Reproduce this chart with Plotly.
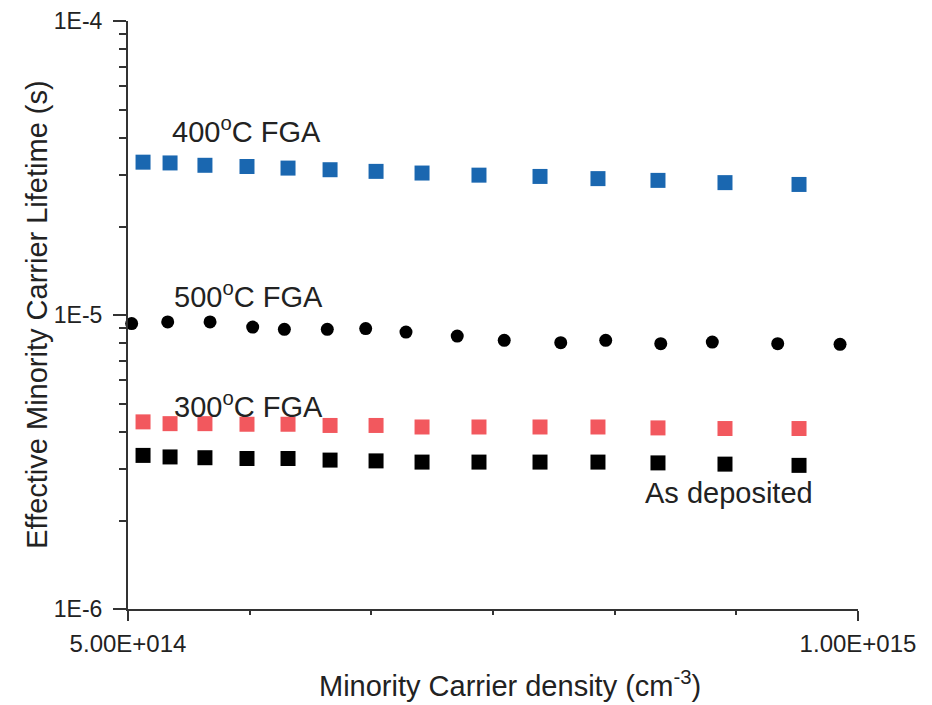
import plotly.graph_objects as go

# Minority carrier density (cm^-3) and effective lifetime (s) per anneal condition
x_sq = [5.103e14, 5.288e14, 5.527e14, 5.815e14, 6.096e14, 6.384e14, 6.699e14,
        7.014e14, 7.404e14, 7.822e14, 8.219e14, 8.630e14, 9.089e14, 9.596e14]

tau_400 = [3.31e-5, 3.29e-5, 3.23e-5, 3.20e-5, 3.16e-5, 3.12e-5, 3.08e-5,
           3.04e-5, 2.99e-5, 2.96e-5, 2.91e-5, 2.87e-5, 2.82e-5, 2.78e-5]

tau_300 = [4.33e-6, 4.27e-6, 4.27e-6, 4.25e-6, 4.25e-6, 4.21e-6, 4.21e-6,
           4.16e-6, 4.16e-6, 4.16e-6, 4.16e-6, 4.13e-6, 4.11e-6, 4.11e-6]

tau_asdep = [3.33e-6, 3.29e-6, 3.27e-6, 3.25e-6, 3.25e-6, 3.21e-6, 3.19e-6,
             3.16e-6, 3.16e-6, 3.16e-6, 3.16e-6, 3.14e-6, 3.11e-6, 3.08e-6]

x_500 = [5.025e14, 5.272e14, 5.562e14, 5.854e14, 6.071e14, 6.365e14, 6.628e14,
         6.904e14, 7.255e14, 7.577e14, 7.964e14, 8.272e14, 8.649e14, 9.002e14,
         9.450e14, 9.877e14]
tau_500 = [9.35e-6, 9.47e-6, 9.47e-6, 9.10e-6, 8.94e-6, 8.94e-6, 8.99e-6,
           8.75e-6, 8.48e-6, 8.20e-6, 8.05e-6, 8.20e-6, 7.99e-6, 8.09e-6,
           7.99e-6, 7.95e-6]

x_ticks = [5e14, 1e15]
x_tick_text = ["5.00E+014", "1.00E+015"]
y_ticks = [1e-6, 1e-5, 1e-4]
y_tick_text = ["1E-6", "1E-5", "1E-4"]

FONT = "Liberation Sans, Arial, sans-serif"
TXT = "#222222"
AX = "#333333"

fig = go.Figure()

series = [
    (x_sq, tau_400, "400°C FGA", "square", "#1a67b0", 15),
    (x_500, tau_500, "500°C FGA", "circle", "#000000", 13),
    (x_sq, tau_300, "300°C FGA", "square", "#f2585e", 15),
    (x_sq, tau_asdep, "As deposited", "square", "#000000", 15),
]
for xs, ys, name, sym, col, size in series:
    fig.add_trace(go.Scatter(
        x=xs, y=ys, mode="markers", name=name, cliponaxis=False,
        marker=dict(symbol=sym, color=col, size=size, line=dict(width=0)),
    ))

# Minor ticks at 2..9 within each decade
y_minor = [d * 10.0 ** k for k in (-6, -5) for d in range(2, 10)]

fig.update_xaxes(
    type="linear", range=[5e14, 1e15],
    tickmode="array", tickvals=x_ticks, ticktext=x_tick_text,
    ticks="outside", ticklen=10, tickwidth=2, tickcolor=AX,
    minor=dict(tickmode="linear", tick0=5e14, dtick=5e14 / 6,
               ticks="outside", ticklen=4, tickwidth=2, tickcolor=AX,
               showgrid=False),
    showline=True, linecolor=AX, linewidth=2, mirror=False,
    showgrid=False, zeroline=False,
    tickfont=dict(family=FONT, size=24, color=TXT),
    ticklabelstandoff=2,
)
fig.update_yaxes(
    type="log", range=[-6, -4],
    tickmode="array", tickvals=y_ticks, ticktext=y_tick_text,
    ticks="outside", ticklen=13, tickwidth=2, tickcolor=AX,
    minor=dict(tickmode="array", tickvals=y_minor,
               ticks="outside", ticklen=7, tickwidth=2, tickcolor=AX,
               showgrid=False),
    showline=True, linecolor=AX, linewidth=2, mirror=False,
    showgrid=False, zeroline=False,
    tickfont=dict(family=FONT, size=23, color=TXT),
    ticklabelstandoff=6,
)

labels = [
    (5.288e14, -4.372, "400<sup>o</sup>C FGA"),
    (5.300e14, -4.933, "500<sup>o</sup>C FGA"),
    (5.300e14, -5.307, "300<sup>o</sup>C FGA"),
    (8.527e14, -5.606, "As deposited"),
]
for lx, ly, txt in labels:
    fig.add_annotation(x=lx, y=ly, xref="x", yref="y", text=txt,
                       showarrow=False, xanchor="left", yanchor="middle",
                       font=dict(family=FONT, size=29, color=TXT))

fig.add_annotation(x=-0.125, y=0.5, xref="paper", yref="paper",
                   text="Effective Minority Carrier Lifetime (s)", textangle=-90,
                   showarrow=False, xanchor="center", yanchor="middle",
                   font=dict(family=FONT, size=29, color=TXT))
fig.add_annotation(x=0.523, y=-0.128, xref="paper", yref="paper",
                   text="Minority Carrier density (cm<sup>-3</sup>)",
                   showarrow=False, xanchor="center", yanchor="middle",
                   font=dict(family=FONT, size=29, color=TXT))

fig.update_layout(
    width=932, height=705,
    margin=dict(l=128, r=74, t=21, b=96, autoexpand=False),
    paper_bgcolor="white", plot_bgcolor="white",
    showlegend=False,
)

fig.write_html("out.html")
